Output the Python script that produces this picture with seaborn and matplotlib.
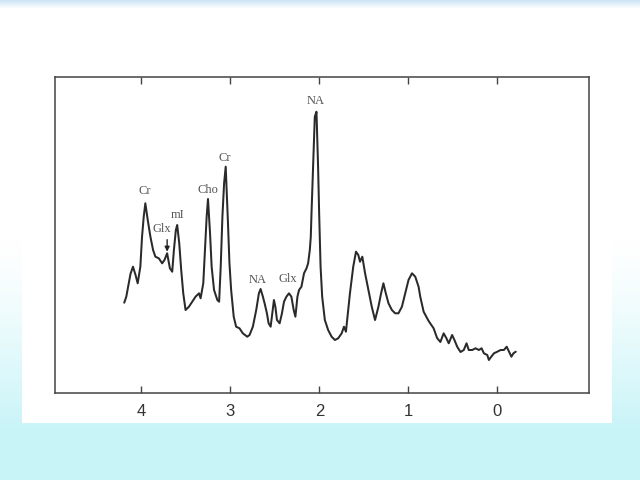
import numpy as np
import pandas as pd
import matplotlib
matplotlib.use("Agg")
import matplotlib.pyplot as plt
import seaborn as sns

# ---- data ----
ppm = [4.192, 4.169, 4.142, 4.122, 4.094, 4.065, 4.041, 4.011, 3.992, 3.973,
       3.955, 3.928, 3.898, 3.868, 3.842, 3.804, 3.766, 3.740, 3.710, 3.679,
       3.653, 3.634, 3.612, 3.597, 3.574, 3.552, 3.529, 3.503, 3.465, 3.428,
       3.391, 3.352, 3.334, 3.304, 3.289, 3.266, 3.251, 3.228, 3.210, 3.183,
       3.146, 3.126, 3.108, 3.089, 3.070, 3.052, 3.027, 3.010, 2.991, 2.962,
       2.935, 2.897, 2.860, 2.810, 2.784, 2.747, 2.709, 2.679, 2.660, 2.634,
       2.615, 2.589, 2.570, 2.547, 2.528, 2.510, 2.494, 2.476, 2.446, 2.420,
       2.397, 2.370, 2.341, 2.314, 2.288, 2.269, 2.246, 2.228, 2.201, 2.172,
       2.144, 2.126, 2.107, 2.096, 2.088, 2.070, 2.051, 2.032, 2.014, 2.002,
       1.986, 1.968, 1.938, 1.901, 1.862, 1.825, 1.788, 1.749, 1.723, 1.701,
       1.656, 1.619, 1.588, 1.562, 1.543, 1.517, 1.486, 1.449, 1.411, 1.374,
       1.336, 1.306, 1.280, 1.253, 1.223, 1.185, 1.148, 1.111, 1.072, 1.035,
       0.998, 0.959, 0.922, 0.885, 0.866, 0.828, 0.772, 0.716, 0.677, 0.640,
       0.603, 0.572, 0.546, 0.508, 0.482, 0.451, 0.414, 0.377, 0.346, 0.321,
       0.282, 0.245, 0.208, 0.177, 0.151, 0.113, 0.095, 0.068, 0.038, 0.000,
       -0.037, -0.074, -0.105, -0.131, -0.158, -0.181, -0.207]
intensity = [90.0, 96.0, 109.4, 118.7, 126.0, 117.7, 109.4, 126.0, 156.0, 176.0,
             189.4, 172.7, 156.0, 142.7, 136.0, 134.4, 129.4, 132.7, 139.4, 124.4,
             121.0, 142.7, 162.7, 167.7, 149.4, 122.7, 99.4, 82.7, 86.0, 91.0,
             96.0, 99.4, 94.4, 109.4, 136.0, 176.0, 193.7, 159.4, 126.0, 102.7,
             92.7, 91.0, 126.0, 176.0, 209.4, 226.0, 170.7, 129.7, 102.7, 76.0,
             66.0, 64.4, 59.4, 56.0, 57.7, 66.0, 82.7, 99.4, 103.7, 96.0,
             89.4, 79.4, 69.4, 66.0, 79.4, 92.7, 86.0, 72.7, 69.4, 79.4,
             91.0, 96.0, 99.4, 96.0, 82.7, 76.0, 96.0, 102.7, 106.0, 119.4,
             124.4, 129.4, 142.7, 156.0, 179.4, 226.0, 276.0, 281.0, 226.0, 179.4,
             126.0, 96.0, 72.7, 62.7, 56.0, 52.7, 54.4, 59.4, 66.0, 61.0,
             99.4, 126.0, 141.0, 137.7, 131.0, 136.0, 119.4, 102.7, 86.0, 72.7,
             86.0, 99.4, 109.4, 99.4, 89.4, 82.7, 79.4, 79.4, 86.0, 99.4,
             112.7, 119.4, 116.0, 106.0, 96.0, 81.0, 71.7, 64.4, 54.7, 50.7,
             59.4, 54.4, 49.4, 57.7, 52.7, 46.0, 40.7, 42.7, 49.4, 42.7,
             42.7, 44.4, 42.7, 44.4, 39.4, 37.7, 32.7, 36.0, 39.4, 41.0,
             42.7, 42.7, 46.0, 41.0, 36.0, 39.4, 41.0]

label_text = ["Cr", "Glx", "mI", "Cho", "Cr", "NA", "NA", "Glx"]
label_ppm = [3.958, 3.766, 3.597, 3.256, 3.064, 2.037, 2.692, 2.353]
label_y = [201.7, 163.7, 177.7, 202.7, 234.7, 291.7, 112.7, 113.7]

arrow_ppm = 3.710
arrow_from = 153.0
arrow_to = 141.0

xticks = [4, 3, 2, 1, 0]
xlim = (4.97, -1.03)
ylim = (0, 315.4)

df = pd.DataFrame({"ppm": ppm, "intensity": intensity})

sns.set_theme(style="white")
plt.rcParams["font.family"] = ["Liberation Sans", "DejaVu Sans"]

fig = plt.figure(figsize=(6.4, 4.8), dpi=100)

# ---- background (slide-like gradient) ----
bg = fig.add_axes([0, 0, 1, 1], zorder=0)
H, W = 480, 640
yy = np.linspace(0, 1, H)[:, None] * np.ones((1, W))
cyan = np.array([200, 244, 248]) / 255.0
white = np.array([1.0, 1.0, 1.0])
t = np.clip((yy - 0.5) / 0.4, 0, 1) ** 1.3
img = white[None, None, :] * (1 - t[..., None]) + cyan[None, None, :] * t[..., None]
# top light-blue strip
strip = np.clip(1 - np.arange(H) / 8.0, 0, 1)[:, None] * np.ones((1, W))
blue = np.array([205, 228, 245]) / 255.0
img = img * (1 - strip[..., None]) + blue[None, None, :] * strip[..., None]
bg.imshow(img, extent=[0, 640, 480, 0], aspect="auto")
bg.add_patch(plt.Rectangle((22, 50), 590, 373, facecolor="white", edgecolor="none"))
bg.set_xlim(0, 640)
bg.set_ylim(480, 0)
bg.axis("off")

# ---- main spectrum axes ----
ax = fig.add_axes([55 / 640, 87.3 / 480, 534 / 640, 315.4 / 480], zorder=1)
ax.set_facecolor("white")
sns.lineplot(data=df, x="ppm", y="intensity", sort=False, estimator=None,
             color="#2a2a2a", linewidth=1.45, ax=ax)
ax.set_xlim(*xlim)
ax.set_ylim(*ylim)
ax.set_xticks(xticks)
ax.set_xticklabels([str(v) for v in xticks])
ax.set_yticks([])
ax.set_xlabel("")
ax.set_ylabel("")
ax.tick_params(axis="x", direction="in", length=5, width=1.0, color="#444444",
               top=True, bottom=True, labelsize=12, labelcolor="#333333", pad=8)
for s in ax.spines.values():
    s.set_visible(True)
    s.set_color("#444444")
    s.set_linewidth(1.1)

for txt, xv, yv in zip(label_text, label_ppm, label_y):
    ax.text(xv, yv, txt, ha="center", va="center", fontsize=9,
            family=["Liberation Serif", "DejaVu Serif"], color="#555555")

ax.annotate("", xy=(arrow_ppm, arrow_to), xytext=(arrow_ppm, arrow_from),
            arrowprops=dict(arrowstyle="-|>", color="#222222", lw=1.0,
                            mutation_scale=7, shrinkA=0, shrinkB=0))

fig.savefig("out.png", dpi=100)
